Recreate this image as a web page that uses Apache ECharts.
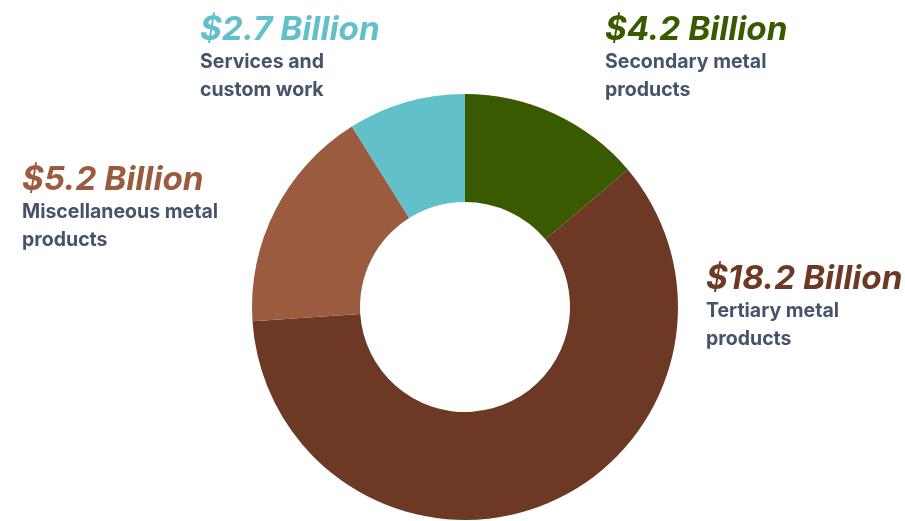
<!DOCTYPE html>
<html>
<head>
<meta charset="utf-8">
<script src="https://cdn.jsdelivr.net/npm/echarts@6/dist/echarts.min.js"></script>
<style>
  html, body { margin: 0; padding: 0; background: #ffffff; }
  #chart { width: 905px; height: 521px; }
</style>
</head>
<body>
<div id="chart"></div>
<script>
// Metal product shipments by segment, in billions of dollars
const categories = [
  'Secondary metal\nproducts',
  'Tertiary metal\nproducts',
  'Miscellaneous metal\nproducts',
  'Services and\ncustom work'
];
const values = [4.2, 18.2, 5.2, 2.7];
const valueLabels = ['$4.2 Billion', '$18.2 Billion', '$5.2 Billion', '$2.7 Billion'];
const colors = ['#3a5a00', '#6e3924', '#9b5b3e', '#62c0cb'];

// Top-left anchor of each label block (px)
const labelAnchors = [
  [605, 12],
  [706, 261],
  [22, 162],
  [200, 12]
];

const chart = echarts.init(document.getElementById('chart'), null, { renderer: 'canvas' });

const data = categories.map((name, i) => ({
  name: name,
  value: values[i],
  itemStyle: { color: colors[i] },
  label: {
    formatter: '{v|' + valueLabels[i] + '}\n{n|' + name.split('\n').join('}\n{n|') + '}',
    rich: {
      v: {
        fontFamily: 'Inter',
        fontSize: 33.3,
        fontWeight: 'bold',
        fontStyle: 'italic',
        color: colors[i],
        lineHeight: 36
      },
      n: {
        fontFamily: 'Inter',
        fontSize: 19.5,
        fontWeight: 'bold',
        color: '#44546a',
        lineHeight: 28
      }
    }
  }
}));

chart.setOption({
  backgroundColor: '#ffffff',
  animation: false,
  series: [{
    type: 'pie',
    center: [465, 307],
    radius: [105, 213],
    startAngle: 90,
    clockwise: true,
    silent: true,
    avoidLabelOverlap: false,
    itemStyle: { borderWidth: 0 },
    label: {
      show: true,
      position: 'outside',
      align: 'left'
    },
    labelLine: { show: false },
    labelLayout: function (params) {
      const a = labelAnchors[params.dataIndex];
      return {
        x: a[0],
        y: a[1],
        align: 'left',
        verticalAlign: 'top',
        hideOverlap: false
      };
    },
    data: data
  }]
});
</script>
</body>
</html>
